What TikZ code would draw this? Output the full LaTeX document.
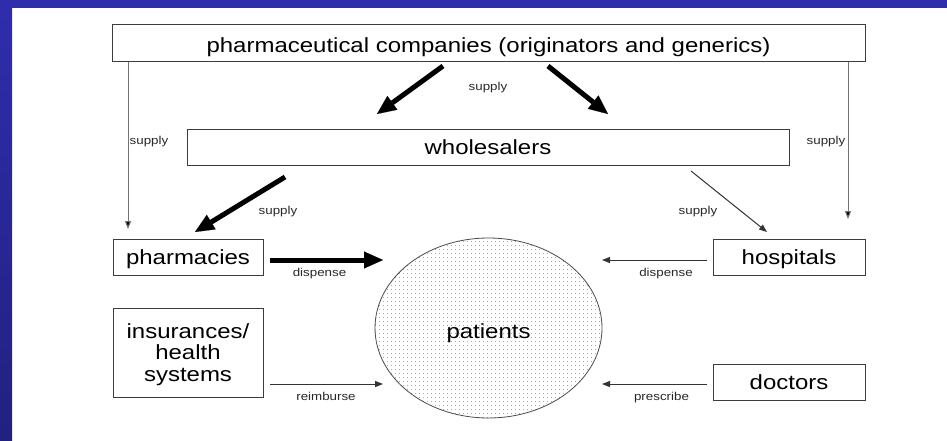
\documentclass[tikz,border=0pt]{standalone}
\usepackage{fontspec}
\setmainfont{Liberation Sans}[FakeStretch=1.17]
\usetikzlibrary{shapes.geometric,arrows.meta,patterns.meta}
\definecolor{frameblue}{RGB}{47,45,172}
\definecolor{frameblue2}{RGB}{33,33,128}
\definecolor{boxline}{RGB}{60,60,60}
\definecolor{labelgray}{RGB}{40,40,40}
\begin{document}
\begin{tikzpicture}[x=1pt,y=-1pt,
  box/.style={draw=boxline, line width=1pt, fill=white, inner sep=0pt, align=center,
    text depth=0pt, font=\fontsize{20.5}{21}\selectfont},
  lbl/.style={inner sep=0pt, anchor=base, text=labelgray, font=\fontsize{11.4}{12}\selectfont},
  thinarrow/.style={line width=1pt, draw=black!80, -{Triangle[length=8pt,width=6pt]}},
  vertarrow/.style={line width=1pt, draw=black!55, -{Triangle[length=8pt,width=6pt,fill=black]}},
  heavyarrow/.style={line width=5pt, draw=black, -{Triangle[length=19pt,width=17pt,line width=0.1pt]}},
]
\useasboundingbox (0,0) rectangle (947,440);
\fill[white] (0,0) rectangle (947,440);
% blue frame
\shade[top color=frameblue, bottom color=frameblue2] (0,0) rectangle (12,440);
\fill[frameblue] (0,0) rectangle (947,8);

% boxes
\node[box, minimum width=753pt, minimum height=37pt, text height=19.8pt] (pharma) at (488.5,42.5)
  {pharmaceutical companies (originators and generics)};
\node[box, minimum width=602pt, minimum height=36pt] (whole) at (488,147) {wholesalers};
\node[box, minimum width=150pt, minimum height=36pt] (pharm) at (188,257) {pharmacies};
\node[box, minimum width=152pt, minimum height=36pt] (hosp) at (789,257) {hospitals};
\node[box, minimum width=150pt, minimum height=89pt, font=\fontsize{20.5}{21.5}\selectfont,
  text depth=-3pt] (ins) at (188,352.5) {insurances/\\health\\systems};
\node[box, minimum width=152pt, minimum height=36pt] (doc) at (789,382) {doctors};
\node[ellipse, draw=black!70, line width=0.8pt, inner sep=0pt,
  pattern={Dots[distance=4pt,radius=0.4pt]}, pattern color=black!80,
  minimum width=227pt, minimum height=180pt, text height=20pt, text depth=0pt,
  font=\fontsize{20.5}{21}\selectfont] (pat) at (488.5,328) {patients};

% arrow end points
\coordinate (tl1) at (443,66);  \coordinate (tl2) at (377,114);
\coordinate (tr1) at (548,66);  \coordinate (tr2) at (608,114);
\coordinate (wp1) at (285,177); \coordinate (wp2) at (195,232);
\coordinate (wh1) at (691,171); \coordinate (wh2) at (767,232);
\coordinate (lv) at (128,229);  \coordinate (rv) at (848,219);
\coordinate (pd1) at (270,260); \coordinate (pd2) at (383,260);
\coordinate (ir1) at (270,384); \coordinate (ir2) at (383,384);
\coordinate (hd1) at (707,260); \coordinate (hd2) at (602,260);
\coordinate (dp1) at (707,384); \coordinate (dp2) at (602,384);

% connectors
\draw[heavyarrow] (tl1) -- (tl2);
\draw[heavyarrow] (tr1) -- (tr2);
\draw[heavyarrow] (wp1) -- (wp2);
\draw[thinarrow] (wh1) -- (wh2);
\draw[vertarrow] (pharma.south -| lv) -- (lv);
\draw[vertarrow] (pharma.south -| rv) -- (rv);
\draw[heavyarrow] (pd1) -- (pd2);
\draw[thinarrow] (ir1) -- (ir2);
\draw[thinarrow] (hd1) -- (hd2);
\draw[thinarrow] (dp1) -- (dp2);

% labels
\node[lbl] (s0) at (488,90) {supply};
\node[lbl] (s1) at (149,144) {supply};
\node[lbl] (s2) at (826,144) {supply};
\node[lbl] (s3) at (278,214.5) {supply};
\node[lbl] (s4) at (698,214.5) {supply};
\node[lbl] (d1) at (319.5,276.5) {dispense};
\node[lbl] (r1) at (326,400.5) {reimburse};
\node[lbl] (d2) at (666,276.5) {dispense};
\node[lbl] (p1) at (661.5,400.5) {prescribe};
\end{tikzpicture}
\end{document}
